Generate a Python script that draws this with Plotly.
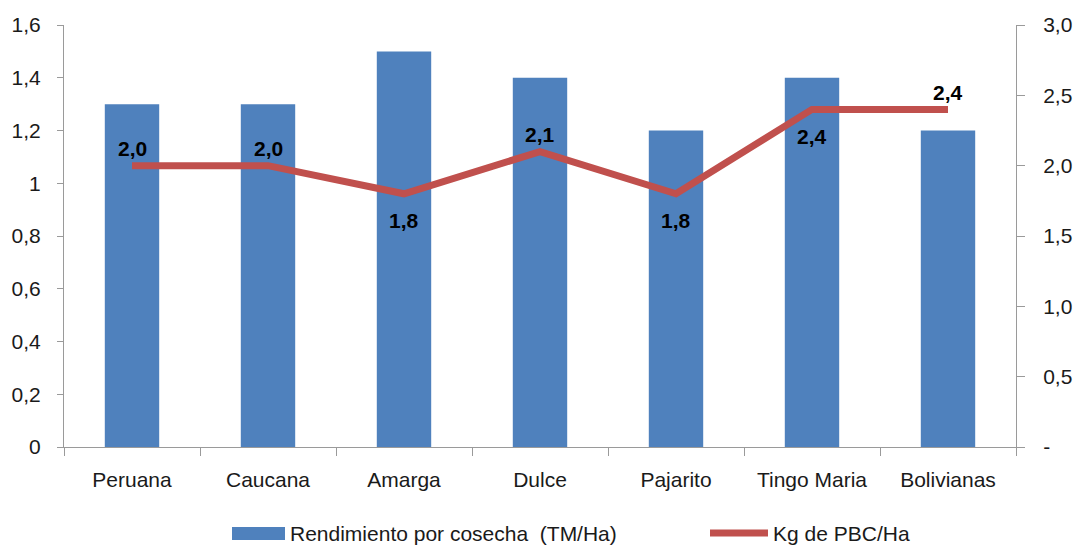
import plotly.graph_objects as go

# Variedades y valores
categorias = ["Peruana", "Caucana", "Amarga", "Dulce", "Pajarito", "Tingo Maria", "Bolivianas"]
rendimiento = [1.3, 1.3, 1.5, 1.4, 1.2, 1.4, 1.2]          # TM/Ha
kg_pbc = [2.0, 2.0, 1.8, 2.1, 1.8, 2.4, 2.4]               # Kg de PBC/Ha
etiqueta_arriba = [True, True, False, True, False, False, True]

eje_izq_vals = [0, 0.2, 0.4, 0.6, 0.8, 1.0, 1.2, 1.4, 1.6]
eje_izq_txt = ["0", "0,2", "0,4", "0,6", "0,8", "1", "1,2", "1,4", "1,6"]
eje_der_vals = [0, 0.5, 1.0, 1.5, 2.0, 2.5, 3.0]
eje_der_txt = ["-", "0,5", "1,0", "1,5", "2,0", "2,5", "3,0"]

NOMBRE_BARRAS = "Rendimiento por cosecha  (TM/Ha)"
NOMBRE_LINEA = "Kg de PBC/Ha"
AZUL = "#4F81BD"
ROJO = "#C0504D"
FUENTE = "Liberation Sans Narrow, Arial Narrow, Liberation Sans, Arial"
GRIS = "#9a9a9a"
TAM = 21

fig = go.Figure()
fig.add_trace(go.Bar(
    x=categorias, y=rendimiento, name=NOMBRE_BARRAS,
    marker=dict(color=AZUL, line=dict(width=0)), width=0.4,
    showlegend=False,
))
fig.add_trace(go.Scatter(
    x=categorias, y=kg_pbc, name=NOMBRE_LINEA, yaxis="y2",
    mode="lines", line=dict(color=ROJO, width=7),
    showlegend=False,
))

# Etiquetas de valor de la línea
for cat, v, arriba in zip(categorias, kg_pbc, etiqueta_arriba):
    fig.add_annotation(
        x=cat, y=v, xref="x", yref="y2",
        text=f"{v:.1f}".replace(".", ","), showarrow=False,
        yanchor="middle", yshift=17 if arriba else -27,
        font=dict(family=FUENTE, size=TAM, color="black", weight="bold"),
    )

# Leyenda inferior
fig.add_shape(type="rect", xref="paper", yref="paper",
              x0=(232 - 64) / 952, x1=(285 - 64) / 952,
              y0=(447 - 540) / 422, y1=(447 - 527) / 422,
              fillcolor=AZUL, line=dict(width=0))
fig.add_annotation(xref="paper", yref="paper", x=(288 - 64) / 952,
                   y=(447 - 533) / 422, xanchor="left", yanchor="middle",
                   text=NOMBRE_BARRAS, showarrow=False,
                   font=dict(family=FUENTE, size=TAM, color="#1a1a1a"))
fig.add_shape(type="line", xref="paper", yref="paper",
              x0=(710 - 64) / 952, x1=(768 - 64) / 952,
              y0=(447 - 533) / 422, y1=(447 - 533) / 422,
              line=dict(color=ROJO, width=7))
fig.add_annotation(xref="paper", yref="paper", x=(771 - 64) / 952,
                   y=(447 - 533) / 422, xanchor="left", yanchor="middle",
                   text=NOMBRE_LINEA, showarrow=False,
                   font=dict(family=FUENTE, size=TAM, color="#1a1a1a"))

fig.update_layout(
    width=1080, height=546,
    margin=dict(l=64, r=64, t=25, b=99),
    paper_bgcolor="white", plot_bgcolor="white",
    font=dict(family=FUENTE, size=TAM, color="#1a1a1a"),
    showlegend=False,
    xaxis=dict(
        type="category", tickson="boundaries", ticks="outside", ticklen=8,
        tickcolor=GRIS, showline=True, linecolor=GRIS, linewidth=1,
        showgrid=False, ticklabelstandoff=14, automargin=False,
    ),
    yaxis=dict(
        range=[0, 1.6], tickvals=eje_izq_vals, ticktext=eje_izq_txt,
        ticks="outside", ticklen=6, tickcolor=GRIS, showline=True,
        linecolor=GRIS, linewidth=1, showgrid=False, zeroline=False,
        ticklabelstandoff=12, automargin=False,
    ),
    yaxis2=dict(
        range=[0, 3.0], tickvals=eje_der_vals, ticktext=eje_der_txt,
        overlaying="y", side="right", ticks="outside", ticklen=8,
        tickcolor=GRIS, showline=True, linecolor=GRIS, linewidth=1,
        showgrid=False, zeroline=False, ticklabelstandoff=14,
        automargin=False,
    ),
)

fig.write_html("out.html")
